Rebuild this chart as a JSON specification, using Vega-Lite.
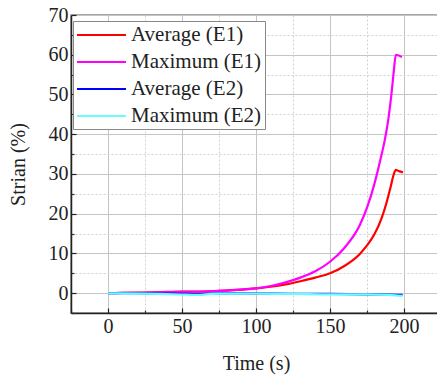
{
  "$schema": "https://vega.github.io/schema/vega-lite/v6.json",
  "autosize": {"type": "none"},
  "padding": {"left": 71, "top": 15, "right": 0, "bottom": 63},
  "width": 370,
  "height": 298,
  "background": "white",
  "data": {"values": [
    {"t": 0, "v": 0, "s": "Average (E1)"},
    {"t": 10, "v": 0.05, "s": "Average (E1)"},
    {"t": 25, "v": 0.15, "s": "Average (E1)"},
    {"t": 40, "v": 0.3, "s": "Average (E1)"},
    {"t": 50, "v": 0.4, "s": "Average (E1)"},
    {"t": 60, "v": 0.4, "s": "Average (E1)"},
    {"t": 75, "v": 0.6, "s": "Average (E1)"},
    {"t": 90, "v": 0.9, "s": "Average (E1)"},
    {"t": 100, "v": 1.2, "s": "Average (E1)"},
    {"t": 110, "v": 1.6, "s": "Average (E1)"},
    {"t": 120, "v": 2.2, "s": "Average (E1)"},
    {"t": 130, "v": 3.0, "s": "Average (E1)"},
    {"t": 140, "v": 3.9, "s": "Average (E1)"},
    {"t": 150, "v": 5.0, "s": "Average (E1)"},
    {"t": 160, "v": 6.9, "s": "Average (E1)"},
    {"t": 170, "v": 9.8, "s": "Average (E1)"},
    {"t": 175, "v": 12.0, "s": "Average (E1)"},
    {"t": 180, "v": 14.8, "s": "Average (E1)"},
    {"t": 185, "v": 19.0, "s": "Average (E1)"},
    {"t": 188, "v": 22.5, "s": "Average (E1)"},
    {"t": 191, "v": 26.8, "s": "Average (E1)"},
    {"t": 193, "v": 29.8, "s": "Average (E1)"},
    {"t": 194.5, "v": 31.0, "s": "Average (E1)"},
    {"t": 196.5, "v": 30.7, "s": "Average (E1)"},
    {"t": 199.3, "v": 30.4, "s": "Average (E1)"},
    {"t": 0, "v": 0, "s": "Maximum (E1)"},
    {"t": 10, "v": 0.05, "s": "Maximum (E1)"},
    {"t": 25, "v": 0.1, "s": "Maximum (E1)"},
    {"t": 40, "v": 0.25, "s": "Maximum (E1)"},
    {"t": 50, "v": 0.35, "s": "Maximum (E1)"},
    {"t": 60, "v": 0.35, "s": "Maximum (E1)"},
    {"t": 75, "v": 0.55, "s": "Maximum (E1)"},
    {"t": 90, "v": 0.9, "s": "Maximum (E1)"},
    {"t": 100, "v": 1.2, "s": "Maximum (E1)"},
    {"t": 110, "v": 1.8, "s": "Maximum (E1)"},
    {"t": 120, "v": 2.7, "s": "Maximum (E1)"},
    {"t": 130, "v": 3.9, "s": "Maximum (E1)"},
    {"t": 140, "v": 5.5, "s": "Maximum (E1)"},
    {"t": 150, "v": 7.9, "s": "Maximum (E1)"},
    {"t": 160, "v": 11.5, "s": "Maximum (E1)"},
    {"t": 170, "v": 17.0, "s": "Maximum (E1)"},
    {"t": 175, "v": 21.5, "s": "Maximum (E1)"},
    {"t": 180, "v": 27.5, "s": "Maximum (E1)"},
    {"t": 184, "v": 33.5, "s": "Maximum (E1)"},
    {"t": 187, "v": 38.5, "s": "Maximum (E1)"},
    {"t": 189.5, "v": 44.0, "s": "Maximum (E1)"},
    {"t": 191.5, "v": 50.0, "s": "Maximum (E1)"},
    {"t": 193, "v": 55.5, "s": "Maximum (E1)"},
    {"t": 194.5, "v": 60.0, "s": "Maximum (E1)"},
    {"t": 196.5, "v": 59.8, "s": "Maximum (E1)"},
    {"t": 198.6, "v": 59.4, "s": "Maximum (E1)"},
    {"t": 0, "v": 0, "s": "Average (E2)"},
    {"t": 10, "v": 0, "s": "Average (E2)"},
    {"t": 25, "v": -0.05, "s": "Average (E2)"},
    {"t": 40, "v": -0.1, "s": "Average (E2)"},
    {"t": 50, "v": -0.15, "s": "Average (E2)"},
    {"t": 60, "v": -0.25, "s": "Average (E2)"},
    {"t": 70, "v": -0.1, "s": "Average (E2)"},
    {"t": 80, "v": -0.05, "s": "Average (E2)"},
    {"t": 100, "v": -0.1, "s": "Average (E2)"},
    {"t": 125, "v": -0.15, "s": "Average (E2)"},
    {"t": 150, "v": -0.2, "s": "Average (E2)"},
    {"t": 175, "v": -0.3, "s": "Average (E2)"},
    {"t": 190, "v": -0.35, "s": "Average (E2)"},
    {"t": 199, "v": -0.45, "s": "Average (E2)"},
    {"t": 0, "v": -0.05, "s": "Maximum (E2)"},
    {"t": 10, "v": -0.05, "s": "Maximum (E2)"},
    {"t": 25, "v": -0.1, "s": "Maximum (E2)"},
    {"t": 40, "v": -0.25, "s": "Maximum (E2)"},
    {"t": 50, "v": -0.35, "s": "Maximum (E2)"},
    {"t": 60, "v": -0.45, "s": "Maximum (E2)"},
    {"t": 70, "v": -0.2, "s": "Maximum (E2)"},
    {"t": 80, "v": -0.1, "s": "Maximum (E2)"},
    {"t": 100, "v": -0.15, "s": "Maximum (E2)"},
    {"t": 125, "v": -0.2, "s": "Maximum (E2)"},
    {"t": 150, "v": -0.3, "s": "Maximum (E2)"},
    {"t": 175, "v": -0.3, "s": "Maximum (E2)"},
    {"t": 190, "v": -0.45, "s": "Maximum (E2)"},
    {"t": 199, "v": -0.7, "s": "Maximum (E2)"}
  ]},
  "layer": [
    {
      "mark": {"type": "line", "strokeOpacity": 0},
      "encoding": {
        "x": {"field": "t", "type": "quantitative", "scale": {"domain": [-25, 225], "nice": false, "zero": false},
          "axis": {"orient": "bottom", "values": [-25, 25, 75, 125, 175, 225], "labels": false, "title": null, "domain": false,
            "tickSize": -3, "tickColor": "#333", "grid": true, "gridColor": "#d0d0d0", "gridDash": [2, 2], "gridWidth": 1}},
        "y": {"field": "v", "type": "quantitative", "scale": {"domain": [-5, 70], "nice": false, "zero": false},
          "axis": {"orient": "left", "values": [-5, 5, 15, 25, 35, 45, 55, 65], "labels": false, "title": null, "domain": false,
            "tickSize": -3, "tickColor": "#333", "grid": true, "gridColor": "#d0d0d0", "gridDash": [2, 2], "gridWidth": 1}},
        "detail": {"field": "s"}
      }
    },
    {
      "mark": {"type": "line", "strokeWidth": 2.2, "interpolate": "monotone"},
      "encoding": {
        "x": {"field": "t", "type": "quantitative", "scale": {"domain": [-25, 225], "nice": false, "zero": false},
          "axis": {"orient": "bottom", "values": [0, 50, 100, 150, 200], "title": "Time (s)", "tickSize": -5,
            "grid": true, "gridColor": "#c4c4c4", "gridWidth": 1}},
        "y": {"field": "v", "type": "quantitative", "scale": {"domain": [-5, 70], "nice": false, "zero": false},
          "axis": {"orient": "left", "values": [0, 10, 20, 30, 40, 50, 60, 70], "title": "Strian (%)", "tickSize": -5,
            "grid": true, "gridColor": "#c4c4c4", "gridWidth": 1}},
        "color": {"field": "s", "type": "nominal",
          "scale": {"domain": ["Average (E1)", "Maximum (E1)", "Average (E2)", "Maximum (E2)"],
                    "range": ["#ff0000", "#ff00ff", "#0000ff", "#66ffff"]},
          "sort": ["Average (E1)", "Maximum (E1)", "Average (E2)", "Maximum (E2)"],
          "legend": {"title": null, "orient": "none", "legendX": 2, "legendY": 6}},
        "order": {"field": "t", "type": "quantitative"}
      }
    }
  ],
  "resolve": {"axis": {"x": "independent", "y": "independent"}},
  "config": {
    "font": "Liberation Serif",
    "view": {"stroke": "#8a8a8a", "strokeWidth": 1.5},
    "axis": {
      "labelFont": "Liberation Serif", "labelFontSize": 20, "labelColor": "#222",
      "titleFont": "Liberation Serif", "titleFontSize": 20, "titleFontWeight": "normal", "titleColor": "#222",
      "domainColor": "#222", "domainWidth": 1.5, "tickColor": "#222", "tickWidth": 1.2,
      "labelPadding": 8, "labelFlush": false, "labelOverlap": false
    },
    "axisX": {"titlePadding": 17},
    "axisY": {"titlePadding": 20},
    "legend": {
      "labelFont": "Liberation Serif", "labelFontSize": 21, "labelColor": "#222",
      "symbolType": "M-1,0H3.9", "symbolSize": 400, "symbolStrokeWidth": 2,
      "rowPadding": 6, "labelOffset": 33, "padding": 3,
      "strokeColor": "#888", "fillColor": "white", "cornerRadius": 0
    }
  }
}
